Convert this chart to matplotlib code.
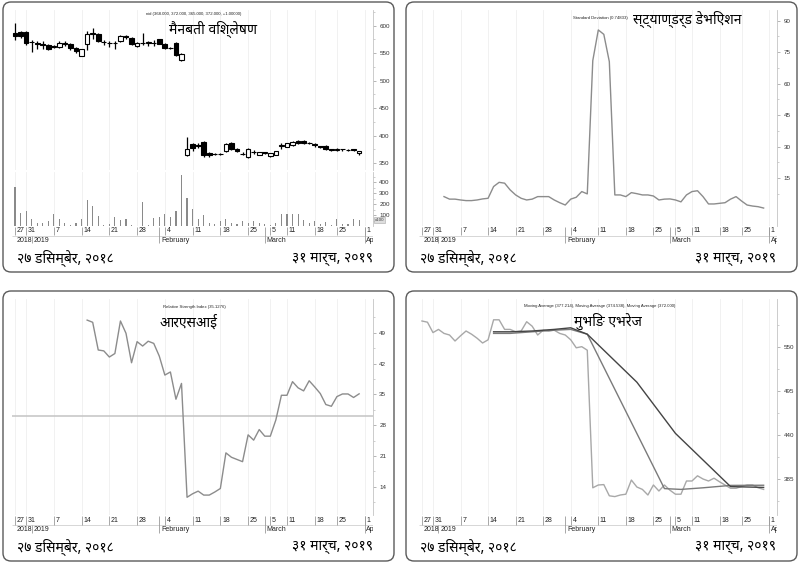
import numpy as np
import pandas as pd
import matplotlib
matplotlib.use("Agg")
import matplotlib.pyplot as plt
from matplotlib import font_manager
from matplotlib.patches import FancyBboxPatch
from matplotlib.transforms import Affine2D
from matplotlib.ticker import FixedLocator

W, H = 800, 563

# trading days (Sun-Thu); the last one (1 Apr) is only used for the axis tick
holidays = ["2019-02-27", "2019-03-04", "2019-03-07", "2019-03-20"]
days = pd.bdate_range("2018-12-27", "2019-04-01", freq="C",
                      weekmask="Sun Mon Tue Wed Thu", holidays=holidays)
n = 63

# candles
opens = [586, 588, 588, 570, 569, 566, 565, 561, 562, 569, 566, 560, 545, 566, 586, 584,
         571, 569, 568, 572, 581, 578, 563, 569, 569, 568, 575, 567, 560, 568, 538,
         365, 384, 383, 388, 368, 367, 367, 373, 386, 376, 367, 362, 370, 365, 369, 363,
         365, 382, 380, 383, 391, 390, 387, 384, 381, 382, 375, 374, 375, 374, 375, 368]
highs = [604, 591, 590, 574, 573, 572, 566, 565, 572, 573, 568, 562, 558, 591, 595, 586,
         574, 572, 572, 583, 583, 580, 571, 587, 572, 574, 576, 569, 562, 570, 550,
         397, 387, 386, 390, 371, 369, 369, 387, 388, 378, 370, 378, 374, 371, 371, 369,
         373, 386, 387, 391, 393, 392, 389, 387, 382, 383, 376, 377, 376, 376, 376, 372]
lows = [574, 578, 565, 553, 558, 558, 556, 559, 560, 563, 556, 551, 544, 555, 575, 571,
        564, 562, 558, 570, 576, 565, 562, 565, 563, 563, 566, 558, 557, 545, 536,
        363, 372, 378, 362, 362, 364, 364, 371, 374, 371, 364, 360, 366, 364, 366, 362,
        364, 376, 379, 382, 385, 384, 385, 380, 378, 374, 372, 373, 373, 373, 373, 365]
closes = [582, 581, 568, 571, 566, 565, 557, 563, 569, 566, 560, 554, 558, 585, 585, 572,
          570, 568, 569, 581, 579, 566, 569, 569, 570, 568, 567, 560, 559, 547, 549,
          376, 378, 381, 364, 364, 366, 367, 384, 376, 373, 366, 376, 370, 371, 370, 368,
          372, 383, 386, 389, 387, 386, 387, 383, 380, 375, 374, 375, 375, 374, 374, 372]
volume = [355, 118, 133, 64, 27, 27, 42, 109, 64, 27, 6, 30, 64, 233, 179, 88, 8, 15, 79,
          55, 61, 10, 3, 218, 5, 70, 80, 109, 79, 133, 466, 257, 158, 61, 97, 27, 15, 42,
          64, 27, 15, 42, 27, 42, 27, 20, 10, 30, 110, 110, 110, 110, 55, 30, 45, 15, 40,
          5, 64, 15, 20, 64, 55]

# standard deviation, from 2 Jan
stdev_start = "2019-01-02"
stdev = [6.2, 5, 5, 4.6, 4.3, 4.3, 4.6, 5.1, 5.4, 11, 13, 12.6, 9.4, 7, 5.4, 4.6, 5,
         6.2, 6.2, 6.2, 4.6, 3.3, 2.2, 5, 5.9, 8.6, 7.5,
         71, 85.6, 83.5, 70.5,
         7, 7, 6.2, 8.1, 7.6, 7, 7, 6.5, 4.6, 5, 5.1, 4.6, 3.7, 7, 8.6, 9, 6.2, 2.7,
         2.7, 3, 3.3, 5, 6.2, 4.1, 2.2, 1.7, 1.4, 0.75]

# RSI, from 15 Jan
rsi_start = "2019-01-15"
rsi = [51.9, 51.4, 45.1, 44.9, 43.5, 44.3, 51.7, 48.9, 42.2, 47, 46, 47.1, 46.6, 43.7,
       39.4, 40.1, 33.9, 37.5,
       11.6, 12.4, 13, 12.1, 12.1, 12.8, 13.6, 21.7, 20.7, 20.2, 19.7, 25.8, 24.6, 27,
       25.5, 25.5, 29.2, 34.8, 34.8, 37.9, 36.5, 35.8, 38.1, 36.7, 35.2, 32.7, 32.3,
       34.5, 35.1, 35.1, 34.3, 35.13]

# moving averages
ma1 = [582.5, 581, 568, 572, 567, 565, 557.5, 564, 570, 566, 561, 555, 559, 584, 584,
       572, 572, 569, 570, 581.6, 576, 565, 571, 570, 571, 567, 565, 559, 549, 550.4, 546,
       374, 377.5, 378, 364, 363, 365, 366, 383.7, 375, 372, 365, 377.5, 370, 377.5, 371,
       366, 366, 382.5, 382.5, 389, 385, 382.5, 386, 381.5, 377.5, 373.4, 373.4, 375.6,
       377.5, 377.5, 374, 372]
ma2_dates = ["2019-01-15", "2019-01-20", "2019-01-24", "2019-01-30", "2019-02-04",
             "2019-02-07", "2019-02-28", "2019-03-06", "2019-03-13", "2019-03-21",
             "2019-03-31"]
ma2 = [567, 567, 569, 571, 572, 566, 373, 372, 374, 377, 377.2]
ma3_dates = ["2019-01-15", "2019-01-20", "2019-01-24", "2019-01-30", "2019-02-04",
             "2019-02-07", "2019-02-20", "2019-03-05", "2019-03-21", "2019-03-31"]
ma3 = [569, 569, 570, 572, 574, 566, 506, 442, 375.5, 374.5]

day_ticks = ["2018-12-27", "2018-12-31", "2019-01-07", "2019-01-14", "2019-01-21",
             "2019-01-28", "2019-02-04", "2019-02-11", "2019-02-18", "2019-02-25",
             "2019-03-05", "2019-03-11", "2019-03-18", "2019-03-25", "2019-04-01"]
month_labels = ["2018", "2019", "February", "March", "Apr"]
month_dates = ["2018-12-27", "2019-01-01", "2019-02-03", "2019-03-03", "2019-04-01"]

start_text = "२७ डिसम्बेर, २०१८"
end_text = "३१ मार्च, २०१९"


def pos(d):
    return days.get_loc(pd.Timestamp(d))


names = {f.name for f in font_manager.fontManager.ttflist}
narrow = "Liberation Sans Narrow" if "Liberation Sans Narrow" in names else "Liberation Sans"
deva = [f for f in ["Noto Sans Devanagari", "Mukta", "Lohit Devanagari"] if f in names]
deva_family = deva[:1] + ["DejaVu Sans"]
plt.rcParams["font.family"] = [narrow, "DejaVu Sans"]

fig = plt.figure(figsize=(W / 100, H / 100), dpi=100)
px = Affine2D().scale(1 / W, -1 / H).translate(0, 1) + fig.transFigure


def px_axes(x0, y0, x1, y1):
    ax = fig.add_axes([x0 / W, 1 - y1 / H, (x1 - x0) / W, (y1 - y0) / H])
    ax.patch.set_alpha(0)
    return ax


tick_x = [pos(d) for d in day_ticks]


def style(ax, major, minor):
    ax.set_xlim(-0.5, 64.5)
    for s in ["left", "top", "bottom"]:
        ax.spines[s].set_visible(False)
    ax.spines["right"].set_color("#c4c4c4")
    ax.spines["right"].set_linewidth(0.6)
    ax.yaxis.tick_right()
    ax.yaxis.set_major_locator(FixedLocator(major))
    ax.yaxis.set_minor_locator(FixedLocator(minor))
    ax.tick_params(axis="y", which="major", length=2.5, width=0.5, color="#999999",
                   labelsize=4.5, labelcolor="#333333", pad=2)
    ax.tick_params(axis="y", which="minor", length=1.5, width=0.5, color="#bbbbbb")
    ax.set_xticks([])
    for t in tick_x:
        ax.axvline(t, color="#efefef", lw=0.6, zorder=0)


def xstrip(x0, x1, y0):
    ax = px_axes(x0, y0, x1, y0 + 20)
    ax.set_xlim(-0.5, 64.5)
    ax.set_ylim(20, 0)
    ax.axis("off")
    ax.hlines(10, -0.5, 64.5, color="#d0d0d0", lw=0.6)
    for d in day_ticks:
        i = pos(d)
        ax.vlines(i, 0.5, 9.5, color="#9a9a9a", lw=0.6)
        ax.text(i + 0.3, 5, str(pd.Timestamp(d).day), fontsize=5, va="center",
                ha="left", color="#222222", clip_on=True)
    for lab, d in zip(month_labels, month_dates):
        i = pos(d)
        if lab == "2019":
            ax.vlines(i, 10, 17.5, color="#9a9a9a", lw=0.6)
        elif lab != "2018":
            ax.vlines(i, 0.5, 17.5, color="#9a9a9a", lw=0.6)
        ax.text(i + 0.3, 14.3, lab, fontsize=5, va="center", ha="left",
                color="#222222", clip_on=True)


def panel(x0, y0, ax_l, ax_r, bottom, small, big, small_xy, big_xy,
          small_ha="center", big_ha="center"):
    box = FancyBboxPatch((x0, y0), 391, 270, boxstyle="round,pad=0,rounding_size=8",
                         transform=px, fc="none", ec="#5a5a5a", lw=1.0, zorder=-1)
    fig.patches.append(box)
    xstrip(ax_l, ax_r, bottom)
    fig.text(x0 + 14, y0 + 256, start_text, transform=px, fontsize=10,
             family=deva_family, va="center", ha="left")
    fig.text(x0 + 370, y0 + 256, end_text, transform=px, fontsize=10,
             family=deva_family, va="center", ha="right")
    fig.text(small_xy[0], small_xy[1], small, transform=px, fontsize=3.1,
             ha=small_ha, va="center", color="#222222", zorder=5)
    fig.text(big_xy[0], big_xy[1], big, transform=px, fontsize=10,
             family=deva_family, ha=big_ha, va="center", zorder=5)


x = np.arange(n)

# ---- candlestick panel
panel(3, 2, 12.2, 373, 226, "nid (368.000, 372.000, 365.000, 372.000, +1.00000)",
      "मैनबती विश्लेषण", (194, 14.5), (213, 29))
axp = px_axes(12.2, 10, 373, 170)
style(axp, [350, 400, 450, 500, 550, 600], [375, 425, 475, 525, 575, 625])
axp.set_ylim(337.6, 628.5)
o = np.array(opens)
c = np.array(closes)
axp.vlines(x, lows, highs, color="black", lw=0.9, zorder=2)
up = c >= o
axp.bar(x[up], (c - o)[up], bottom=o[up], width=0.85, color="white",
        edgecolor="black", lw=0.8, zorder=3)
axp.bar(x[~up], (o - c)[~up], bottom=c[~up], width=0.85, color="black",
        edgecolor="black", lw=0.8, zorder=3)

axv = px_axes(12.2, 172, 373, 226)
style(axv, [100, 200, 300, 400], [50, 150, 250, 350, 450])
axv.set_ylim(0, 491)
axv.bar(x, volume, width=0.2, color="#8a8a8a", zorder=2)
axv.text(1.005, volume[-1], "x100", transform=axv.get_yaxis_transform(), fontsize=3.2,
         va="center", ha="left", color="#444444",
         bbox=dict(boxstyle="square,pad=0.15", fc="#dddddd", ec="#aaaaaa", lw=0.4))

# ---- standard deviation panel
panel(406, 2, 419.2, 777.4, 226, "Standard Deviation (0.74833)",
      "स्ट्याण्डर्ड डेभिएशन", (628, 17.5), (633, 19), small_ha="right", big_ha="left")
axs = px_axes(419.2, 10, 777.4, 226)
style(axs, [15, 30, 45, 60, 75, 90], [7.5, 22.5, 37.5, 52.5, 67.5, 82.5])
axs.set_ylim(-7.8, 95.1)
s0 = pos(stdev_start)
axs.plot(np.arange(s0, s0 + len(stdev)), stdev, color="#8c8c8c", lw=1.0)

# ---- RSI panel
panel(3, 291, 12.2, 373, 515, "Relative Strength Index (35.1276)",
      "आरएसआई", (194, 307), (189, 323))
axr = px_axes(12.2, 299, 373, 515)
style(axr, [14, 21, 28, 35, 42, 49], [10.5, 17.5, 24.5, 31.5, 38.5, 45.5, 52.5])
axr.set_ylim(7.57, 56.7)
axr.axhline(30, color="#c8c8c8", lw=1.2, zorder=1)
r0 = pos(rsi_start)
axr.plot(np.arange(r0, r0 + len(rsi)), rsi, color="#8c8c8c", lw=1.0)

# ---- moving average panel
panel(406, 291, 419.2, 777.4, 515,
      "Moving Average (377.214), Moving Average (374.538), Moving Average (372.000)",
      "मुभिङ एभरेज", (600, 306), (608, 321))
axm = px_axes(419.2, 299, 777.4, 515)
style(axm, [385, 440, 495, 550], [357.5, 412.5, 467.5, 522.5, 577.5])
axm.set_ylim(340, 610)
axm.plot(x, ma1, color="#a8a8a8", lw=1.0)
axm.plot([pos(d) for d in ma2_dates], ma2, color="#7a7a7a", lw=1.0)
axm.plot([pos(d) for d in ma3_dates], ma3, color="#444444", lw=1.0)

fig.savefig("out.png", dpi=100)
